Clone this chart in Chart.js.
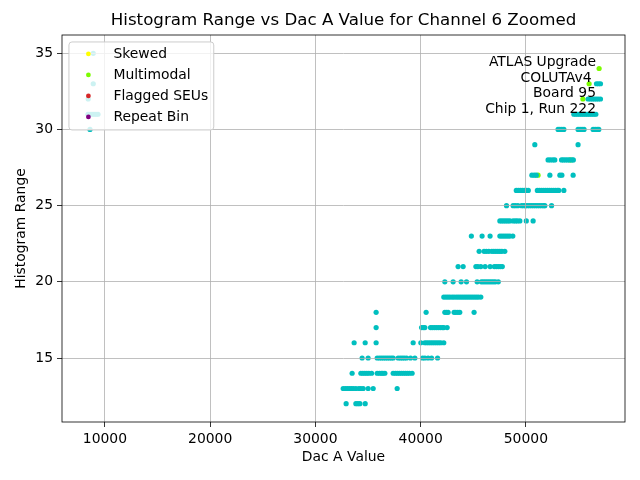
<!DOCTYPE html>
<html>
<head>
<meta charset="utf-8">
<script src="https://cdn.jsdelivr.net/npm/chart.js@4.4.1/dist/chart.umd.min.js"></script>
<style>
  body { margin: 0; background: #fff; }
  #wrap { width: 640px; height: 480px; }
</style>
</head>
<body>
<div id="wrap"><canvas id="chart"></canvas></div>
<script>
// histogram range rows (y) and the dac values seen on each row (x)
const rangeRows = [12, 13, 14, 15, 16, 17, 18, 19, 20, 21, 22, 23, 24, 25, 26, 27, 28, 29, 30, 31, 32, 33, 35];
const dacRows = [
  [32920, 33845, 34035, 34225, 34730],
  [32640, 32850, 33040, 33230, 33420, 33610, 33845, 34130, 34320, 34540, 35010, 35490, 37770],
  [33490, 34320, 34510, 34700, 34890, 35080, 35340, 35870, 36080, 36270, 36410, 36600, 37390, 37600, 37790, 37980, 38170, 38360, 38550, 38740, 38930, 39190],
  [34440, 35010, 35870, 36080, 36270, 36460, 36650, 36840, 37030, 37220, 37390, 37860, 38070, 38260, 38450, 38660, 39040, 39450, 40180, 40400, 40710, 41040, 41610],
  [33680, 34730, 35770, 39290, 40020, 40400, 40590, 40780, 40970, 41160, 41350, 41540, 41730, 41920, 42200],
  [35770, 40090, 40260, 40400, 40940, 41110, 41300, 41490, 41680, 41870, 42060, 42200, 42520],
  [35770, 40520, 42300, 42460, 42610, 43180, 43340, 43530, 43720, 45080],
  [42200, 42400, 42590, 42780, 42990, 43180, 43390, 43580, 43770, 43960, 44150, 44340, 44530, 44720, 44910, 45100, 45290, 45480, 45720],
  [42300, 43090, 43850, 44360, 45370, 45770, 45960, 46150, 46340, 46530, 46720, 46910, 47100, 47380],
  [43560, 44040, 45250, 45440, 45720, 46130, 46600, 47000, 47190, 47380, 47570, 47760],
  [45560, 46030, 46240, 46480, 46770, 46960, 47150, 47340, 47530, 47720, 48000],
  [44820, 45840, 46600, 47530, 47720, 47910, 48100, 48290, 48480, 48760],
  [47530, 47720, 47910, 48100, 48290, 48480, 48790, 49000, 49190, 49430, 50040, 50690],
  [48160, 48790, 49000, 49240, 49590, 49780, 49970, 50160, 50350, 50540, 50730, 50920, 51110, 51300, 51490, 51680, 51800, 52440],
  [49090, 49280, 49470, 49660, 49850, 50040, 50230, 51090, 51280, 51470, 51660, 51850, 52040, 52230, 52420, 52610, 52800, 52990, 53130, 53610],
  [50570, 50800, 50990, 52280, 53230, 53420, 54490],
  [52110, 52320, 52560, 52750, 53390, 53560, 53750, 53940, 54130, 54370, 54510],
  [50850, 54960],
  [8580, 53060, 53230, 53420, 53610, 54960, 55150, 55340, 55530, 56390, 56580, 56770, 56930],
  [8390, 8580, 8770, 8960, 9150, 9340, 54560, 54750, 54940, 55130, 55320, 55510, 55700, 55890, 56080, 56270, 56460, 56650],
  [8410, 55910, 56120, 56310, 56500, 56690, 56880, 57090],
  [8890, 56710, 56900, 57090],
  [8890]
];

const multiDac = [51160, 54230, 55420, 56010, 56960];
const multiRange = [27, 28, 32, 33, 34];
const skewedDac = [], skewedRange = [];
const seuDac = [], seuRange = [];
const repeatDac = [], repeatRange = [];

const xTicks = [10000, 20000, 30000, 40000, 50000];
const yTicks = [15, 20, 25, 30, 35];
const infoLines = ['ATLAS Upgrade', 'COLUTAv4 ', 'Board 95', 'Chip 1, Run 222'];

const toPoints = (xs, ys) => xs.map((x, i) => ({ x: x, y: ys[i] }));
const normalPoints = [];
rangeRows.forEach((r, i) => dacRows[i].forEach(d => normalPoints.push({ x: d, y: r })));

const FONT = 'DejaVu Sans';
const FS = 13.9;
Chart.defaults.font.family = FONT;
Chart.defaults.font.size = FS;
Chart.defaults.color = '#000';

const framePlugin = {
  id: 'frame',
  afterDraw(chart) {
    const { ctx, chartArea: a } = chart;
    ctx.save();
    // spines
    ctx.strokeStyle = '#000';
    ctx.lineWidth = 0.8;
    ctx.strokeRect(a.left, a.top, a.right - a.left, a.bottom - a.top);

    // info text, top right
    ctx.font = FS + 'px ' + FONT;
    ctx.fillStyle = '#000';
    ctx.textAlign = 'right';
    ctx.textBaseline = 'middle';
    infoLines.forEach((t, i) => ctx.fillText(t, 596, 62 + i * 15.9));

    // legend box, upper left
    const entries = chart.data.datasets.slice(1);
    const tw = Math.max(...entries.map(d => ctx.measureText(d.label).width));
    const bx = a.left + 0.5 * FS, by = a.top + 0.5 * FS;
    const bw = 3.6 * FS + tw, bh = 88;
    ctx.beginPath();
    ctx.roundRect(bx, by, bw, bh, 3);
    ctx.fillStyle = 'rgba(255,255,255,0.8)';
    ctx.fill();
    ctx.strokeStyle = '#cccccc';
    ctx.lineWidth = 1;
    ctx.stroke();
    ctx.textAlign = 'left';
    entries.forEach((d, i) => {
      const cy = by + 12 + i * 21;
      ctx.beginPath();
      ctx.arc(bx + 1.4 * FS, cy, 2.4, 0, Math.PI * 2);
      ctx.fillStyle = d.backgroundColor;
      ctx.fill();
      ctx.fillStyle = '#000';
      ctx.fillText(d.label, bx + 3.2 * FS, cy);
    });
    ctx.restore();
  }
};

const gridOpts = { color: '#b0b0b0', lineWidth: 0.8, z: 1, tickLength: 5, tickColor: '#000', tickWidth: 0.8 };

new Chart(document.getElementById('chart'), {
  type: 'scatter',
  data: {
    datasets: [
      { label: 'Normal', data: normalPoints, backgroundColor: '#00bfbf' },
      { label: 'Skewed', data: toPoints(skewedDac, skewedRange), backgroundColor: '#ffff00' },
      { label: 'Multimodal', data: toPoints(multiDac, multiRange), backgroundColor: '#7cfc00' },
      { label: 'Flagged SEUs', data: toPoints(seuDac, seuRange), backgroundColor: '#d62728' },
      { label: 'Repeat Bin', data: toPoints(repeatDac, repeatRange), backgroundColor: '#800080' }
    ]
  },
  options: {
    responsive: true,
    maintainAspectRatio: false,
    animation: false,
    layout: { padding: { left: 0, right: 15, top: 0, bottom: 0 } },
    elements: { point: { radius: 2.6, borderWidth: 0, hoverRadius: 2.6 } },
    plugins: {
      legend: { display: false },
      tooltip: { enabled: false },
      title: {
        display: true,
        fullSize: false,
        text: 'Histogram Range vs Dac A Value for Channel 6 Zoomed',
        font: { size: 16.67, weight: 'normal' },
        color: '#000',
        padding: { top: 11, bottom: 4 }
      }
    },
    scales: {
      x: {
        type: 'linear',
        min: 5920,
        max: 59420,
        afterBuildTicks: s => { s.ticks = xTicks.map(v => ({ value: v })); },
        afterFit: s => { s.height = 58; },
        ticks: { callback: v => String(v), padding: 4, maxRotation: 0 },
        grid: gridOpts,
        border: { display: false },
        title: { display: true, text: 'Dac A Value', padding: { top: 0, bottom: 14.7 } }
      },
      y: {
        min: 10.8,
        max: 36.2,
        afterBuildTicks: s => { s.ticks = yTicks.map(v => ({ value: v })); },
        afterFit: s => { s.width = 62; },
        ticks: { callback: v => String(v), padding: 4 },
        grid: gridOpts,
        border: { display: false },
        title: { display: true, text: 'Histogram Range', padding: { top: 12.7, bottom: 0 } }
      }
    }
  },
  plugins: [framePlugin]
});
</script>
</body>
</html>
